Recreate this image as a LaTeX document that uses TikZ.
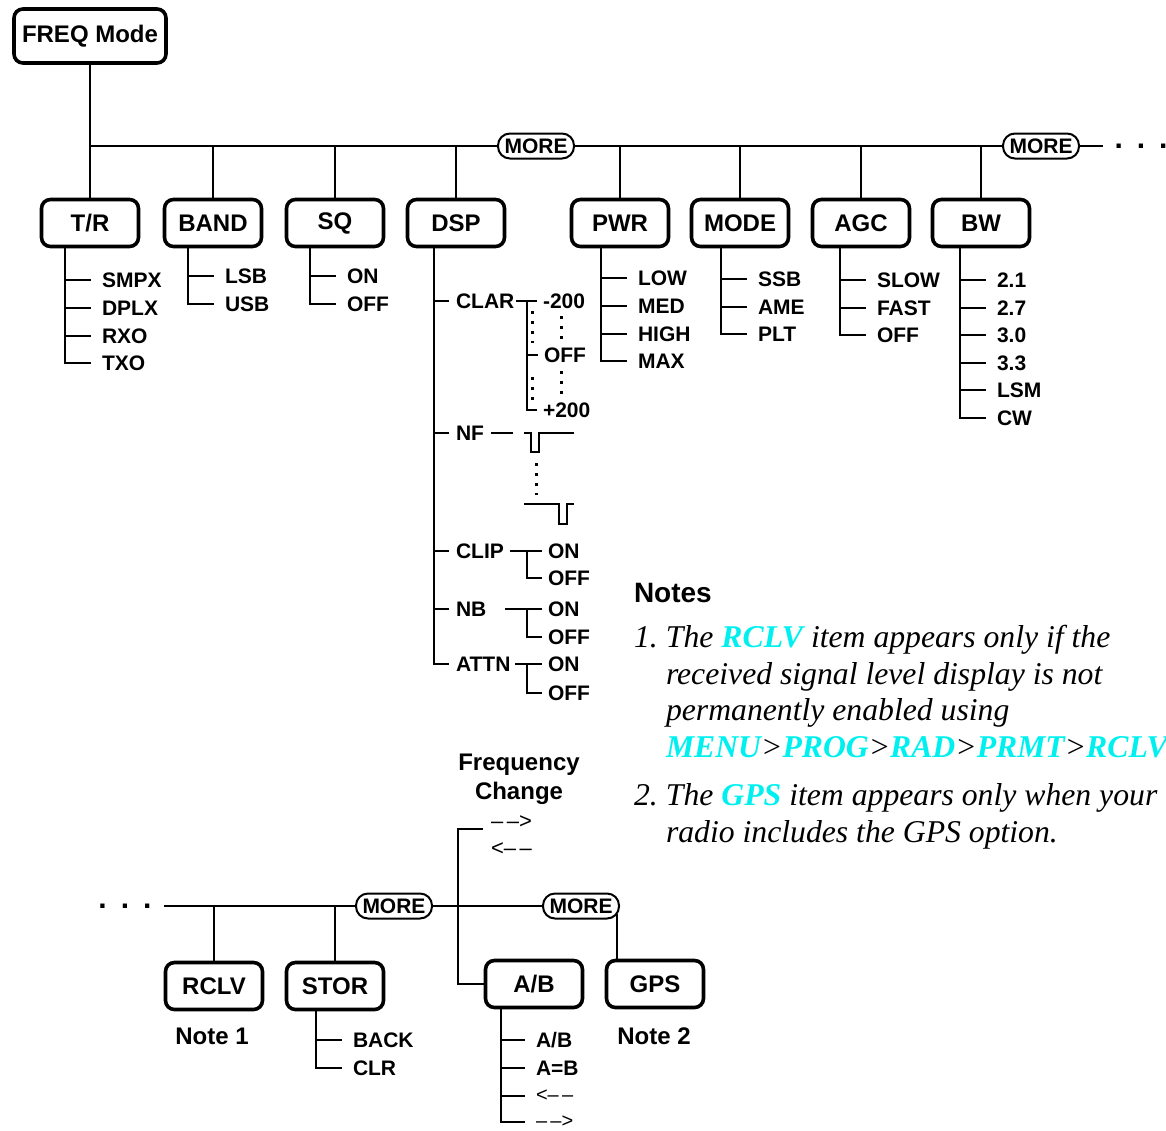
\documentclass[tikz,border=0pt]{standalone}
\usepackage{fontspec}
\setmainfont{Liberation Serif}
\setsansfont{Liberation Sans}
\definecolor{notecyan}{RGB}{0,240,240}

\begin{document}
\begin{tikzpicture}[x=1pt,y=-1pt,line width=2pt,node distance=121pt,
    menu node/.style={rectangle,draw,rounded corners=9pt,line width=3.6pt,minimum width=97pt,minimum height=47pt,inner sep=0pt,font=\sffamily\bfseries\fontsize{24}{28}\selectfont},
    more node/.style={rectangle,draw,rounded corners=12pt,line width=2pt,minimum width=76pt,minimum height=25pt,inner sep=0pt,font=\sffamily\bfseries\fontsize{21}{24}\selectfont},
    leaf node/.style={anchor=west,inner xsep=0pt,inner ysep=1pt,font=\sffamily\bfseries\fontsize{21}{24}\selectfont},
    arrow node/.style={anchor=west,inner xsep=0pt,font=\sffamily\fontsize{22}{24}\selectfont},
    label node/.style={align=center,inner sep=0pt,font=\sffamily\bfseries\fontsize{24}{29}\selectfont},
    note node/.style={anchor=base west,align=left,inner sep=0pt,font=\rmfamily\itshape\fontsize{31.7}{36.5}\selectfont},
    dots node/.style={inner xsep=11pt,font=\sffamily\bfseries\fontsize{30}{30}\selectfont},
    dotline/.style={line width=3pt,dash pattern=on 3pt off 7pt},
    twig/.style={shorten >=#1},twig/.default=10pt]
    \useasboundingbox (0,0) rectangle (1166,1130);

    % top row
    \node [menu node, minimum width=152pt, minimum height=54pt] (1) at (90,36) {FREQ Mode};
    \node [menu node] (2) at (90,223) {T/R};
    \node [menu node] (3) [right of=2, xshift=2pt] {BAND};
    \node [menu node] (4) [right of=3, xshift=1pt] {SQ};
    \node [menu node] (5) [right of=4] {DSP};
    \node [menu node] (6) [right of=5, xshift=43pt] {PWR};
    \node [menu node] (7) [right of=6, xshift=-1pt] {MODE};
    \node [menu node] (8) [right of=7] {AGC};
    \node [menu node] (9) [right of=8, xshift=-1pt] {BW};

    \node [more node] (10) at (536,146) {MORE};
    \node [more node] (11) at (1041,146) {MORE};
    \node [dots node] (12) at (1141,146) {.\hspace{14pt}.\hspace{14pt}.};

    \path (1.south) edge (2.north)
        (1.south |- 10) edge (10.west)
        (10.east) edge (11.west)
        (11.east) edge (12.west)
        (3.north) edge (3.north |- 10)
        (4.north) edge (4.north |- 10)
        (5.north) edge (5.north |- 10)
        (6.north) edge (6.north |- 10)
        (7.north) edge (7.north |- 10)
        (8.north) edge (8.north |- 10)
        (9.north) edge (9.north |- 10);

    % T/R
    \node [leaf node] (2a) at (101,280) {SMPX};
    \node [leaf node] (2b) at (101,308) {DPLX};
    \node [leaf node] (2c) at (101,336) {RXO};
    \node [leaf node] (2d) at (101,363) {TXO};
    \coordinate (2v) at ([xshift=-25pt]2.south);
    \draw [twig] (2v) |- (2d.west);
    \draw [twig] (2v |- 2a) -- (2a.west);
    \draw [twig] (2v |- 2b) -- (2b.west);
    \draw [twig] (2v |- 2c) -- (2c.west);

    % BAND
    \node [leaf node] (3a) at (224,276) {LSB};
    \node [leaf node] (3b) at (224,304) {USB};
    \coordinate (3v) at ([xshift=-25pt]3.south);
    \draw [twig] (3v) |- (3b.west);
    \draw [twig] (3v |- 3a) -- (3a.west);

    % SQ
    \node [leaf node] (4a) at (346,276) {ON};
    \node [leaf node] (4b) at (346,304) {OFF};
    \coordinate (4v) at ([xshift=-25pt]4.south);
    \draw [twig] (4v) |- (4b.west);
    \draw [twig] (4v |- 4a) -- (4a.west);

    % DSP
    \node [leaf node] (5a) at (455,301) {CLAR};
    \node [leaf node] (5b) at (455,433) {NF};
    \node [leaf node] (5c) at (455,551) {CLIP};
    \node [leaf node] (5d) at (455,609) {NB};
    \node [leaf node] (5e) at (455,664) {ATTN};
    \coordinate (5v) at ([xshift=-22pt]5.south);
    \draw [twig=6pt] (5v) |- (5e.west);
    \draw [twig=6pt] (5v |- 5a) -- (5a.west);
    \draw [twig=6pt] (5v |- 5b) -- (5b.west);
    \draw [twig=6pt] (5v |- 5c) -- (5c.west);
    \draw [twig=6pt] (5v |- 5d) -- (5d.west);

    % CLAR
    \node [leaf node] (5a1) at (542,301) {-200};
    \node [leaf node] (5a2) at (543,355) {OFF};
    \node [leaf node] (5a3) at (542,410) {+200};
    \coordinate (5av) at (527,301);
    \draw [shorten <=1pt, twig=5pt] (5a.east) -- (5a1.west);
    \draw [twig=5pt] (5av) |- (5a3.west);
    \draw [twig=5pt] (5av |- 5a2) -- (5a2.west);
    \draw [dotline] (532,311) -- (532,343);
    \draw [dotline] (532,377) -- (532,403);
    \draw [dotline] (561,316) -- (561,343);
    \draw [dotline] (561,371) -- (561,400);

    % NF
    \coordinate (nf1) at (524,433);
    \coordinate (nf2) at (524,504);
    \draw [shorten <=6pt, shorten >=11pt] (5b.east) -- (nf1);
    \draw (nf1) -- ++(7,0) -- ++(0,19) -- ++(8,0) -- ++(0,-19) -- ++(35,0);
    \draw [dotline] (536,463) -- (536,495);
    \draw (nf2) -- ++(35,0) -- ++(0,20) -- ++(8,0) -- ++(0,-20) -- ++(7,0);

    % CLIP, NB, ATTN
    \node [leaf node] (5c1) at (547,551) {ON};
    \node [leaf node] (5c2) at (547,578) {OFF};
    \node [leaf node] (5d1) at (547,609) {ON};
    \node [leaf node] (5d2) at (547,637) {OFF};
    \node [leaf node] (5e1) at (547,664) {ON};
    \node [leaf node] (5e2) at (547,693) {OFF};
    \coordinate (5cv) at (527,551);
    \coordinate (5dv) at (527,609);
    \coordinate (5ev) at (527,664);
    \draw [shorten <=5pt, twig=5pt] (5c.east) -- (5c1.west);
    \draw [twig=5pt] (5cv) |- (5c2.west);
    \draw [shorten <=18pt, twig=5pt] (5d.east) -- (5d1.west);
    \draw [twig=5pt] (5dv) |- (5d2.west);
    \draw [shorten <=4pt, twig=5pt] (5e.east) -- (5e1.west);
    \draw [twig=5pt] (5ev) |- (5e2.west);

    % PWR
    \node [leaf node] (6a) at (637,278) {LOW};
    \node [leaf node] (6b) at (637,306) {MED};
    \node [leaf node] (6c) at (637,334) {HIGH};
    \node [leaf node] (6d) at (637,361) {MAX};
    \coordinate (6v) at ([xshift=-19pt]6.south);
    \draw [twig] (6v) |- (6d.west);
    \draw [twig] (6v |- 6a) -- (6a.west);
    \draw [twig] (6v |- 6b) -- (6b.west);
    \draw [twig] (6v |- 6c) -- (6c.west);

    % MODE
    \node [leaf node] (7a) at (757,279) {SSB};
    \node [leaf node] (7b) at (757,307) {AME};
    \node [leaf node] (7c) at (757,334) {PLT};
    \coordinate (7v) at ([xshift=-19pt]7.south);
    \draw [twig] (7v) |- (7c.west);
    \draw [twig] (7v |- 7a) -- (7a.west);
    \draw [twig] (7v |- 7b) -- (7b.west);

    % AGC
    \node [leaf node] (8a) at (876,280) {SLOW};
    \node [leaf node] (8b) at (876,308) {FAST};
    \node [leaf node] (8c) at (876,335) {OFF};
    \coordinate (8v) at ([xshift=-21pt]8.south);
    \draw [twig] (8v) |- (8c.west);
    \draw [twig] (8v |- 8a) -- (8a.west);
    \draw [twig] (8v |- 8b) -- (8b.west);

    % BW
    \node [leaf node] (9a) at (996,280) {2.1};
    \node [leaf node] (9b) at (996,308) {2.7};
    \node [leaf node] (9c) at (996,335) {3.0};
    \node [leaf node] (9d) at (996,363) {3.3};
    \node [leaf node] (9e) at (996,390) {LSM};
    \node [leaf node] (9f) at (996,418) {CW};
    \coordinate (9v) at ([xshift=-21pt]9.south);
    \draw [twig] (9v) |- (9f.west);
    \draw [twig] (9v |- 9a) -- (9a.west);
    \draw [twig] (9v |- 9b) -- (9b.west);
    \draw [twig] (9v |- 9c) -- (9c.west);
    \draw [twig] (9v |- 9d) -- (9d.west);
    \draw [twig] (9v |- 9e) -- (9e.west);

    % notes
    \node [anchor=west, inner sep=0pt, font=\sffamily\bfseries\fontsize{28}{30}\selectfont] (30) at (633,593) {Notes};
    \node [note node] (31) at (633,757) {\makebox[32pt][l]{1.}The {\bfseries\color{notecyan}RCLV} item appears only if the\\
        \hspace*{32pt}received signal level display is not\\
        \hspace*{32pt}permanently enabled using\\
        \hspace*{32pt}{\bfseries\color{notecyan}MENU}>{\bfseries\color{notecyan}PROG}>{\bfseries\color{notecyan}RAD}>{\bfseries\color{notecyan}PRMT}>{\bfseries\color{notecyan}RCLV}};
    \node [note node] (32) at (633,842) {\makebox[32pt][l]{2.}The {\bfseries\color{notecyan}GPS} item appears only when your\\
        \hspace*{32pt}radio includes the GPS option.};

    % bottom row
    \node [more node] (20) at (394,906) {MORE};
    \node [more node] (21) at (581,906) {MORE};
    \node [dots node] (19) at (125,906) {.\hspace{14pt}.\hspace{14pt}.};
    \node [menu node] (22) at (214,986) {RCLV};
    \node [menu node] (23) [right of=22] {STOR};
    \node [menu node] (24) at (534,984) {A/B};
    \node [menu node] (25) [right of=24] {GPS};
    \node [label node] (33) at (212,1036) {Note 1};
    \node [label node] (34) at (654,1036) {Note 2};

    \path (19.east) edge (20.west)
        (20.east) edge (21.west)
        (22.north) edge (22.north |- 20)
        (23.north) edge (23.north |- 20);
    \coordinate (gv) at ([xshift=-3pt,yshift=-8pt]21.east);
    \draw (gv) -- (gv |- 25.north);

    % frequency change
    \node [label node] (26) at (519,779) {Frequency\\Change};
    \node [arrow node] (27) at (490,822) {\textendash\,\textendash>};
    \node [arrow node] (28) at (490,849) {<\textendash\,\textendash};
    \coordinate (fc) at (458,829);
    \draw [twig=7pt] (24.west) -| (fc) -- (fc -| 27.west);

    % STOR
    \node [leaf node] (23a) at (352,1040) {BACK};
    \node [leaf node] (23b) at (352,1068) {CLR};
    \coordinate (23v) at ([xshift=-19pt]23.south);
    \draw [twig] (23v) |- (23b.west);
    \draw [twig] (23v |- 23a) -- (23a.west);

    % A/B
    \node [leaf node] (24a) at (535,1040) {A/B};
    \node [leaf node] (24b) at (535,1068) {A=B};
    \node [arrow node, font=\sffamily\fontsize{20}{24}\selectfont] (24c) at (535,1096) {<\textendash\,\textendash};
    \node [arrow node, font=\sffamily\fontsize{20}{24}\selectfont] (24d) at (535,1122) {\textendash\,\textendash>};
    \coordinate (24v) at ([xshift=-33pt]24.south);
    \draw [twig] (24v) |- (24d.west);
    \draw [twig] (24v |- 24a) -- (24a.west);
    \draw [twig] (24v |- 24b) -- (24b.west);
    \draw [twig] (24v |- 24c) -- (24c.west);
\end{tikzpicture}
\end{document}
